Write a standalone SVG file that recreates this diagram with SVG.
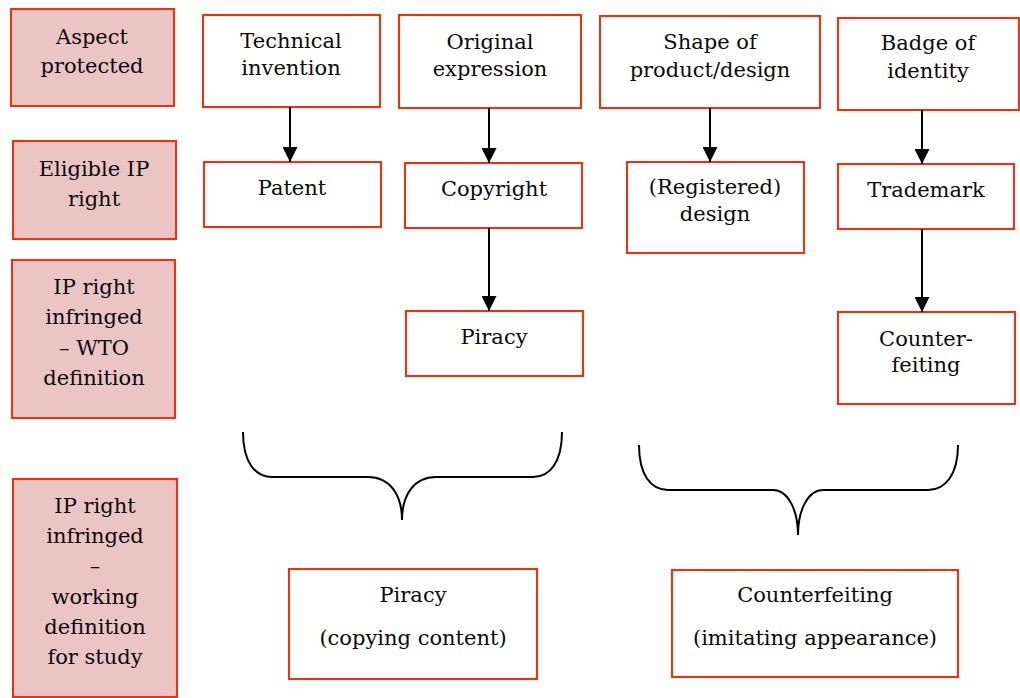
<svg xmlns="http://www.w3.org/2000/svg" width="1020" height="698" viewBox="0 0 1020 698">
<defs>
<style>
rect.n{fill:#ffffff;stroke:#ff2a0a;stroke-width:2}
rect.h{fill:#ebc4c4;stroke:#ff2a0a;stroke-width:2}
text{font-family:"DejaVu Serif","Liberation Serif",serif;font-size:21px;fill:#0a0a0a;text-anchor:middle}
.c line{stroke:#000;stroke-width:2}
.b{fill:none;stroke:#000;stroke-width:2}
</style>
<marker id="ah" markerWidth="15" markerHeight="15" viewBox="0 0 15 15" refX="15" refY="7.5" orient="auto" markerUnits="userSpaceOnUse">
<path d="M0,0 L15,7.5 L0,15 Z" fill="#000"/>
</marker>
</defs>
<rect width="1020" height="698" fill="#fff"/>
<g id="h1"><rect class="h" x="11" y="9" width="163" height="97"/><text x="92" y="44">Aspect</text><text x="92" y="73">protected</text></g>
<g id="h2"><rect class="h" x="13" y="141" width="163" height="98"/><text x="94" y="176">Eligible IP</text><text x="94" y="206">right</text></g>
<g id="h3"><rect class="h" x="12" y="260" width="163" height="158"/><text x="94" y="294">IP right</text><text x="94" y="324">infringed</text><text x="94" y="355">– WTO</text><text x="94" y="385">definition</text></g>
<g id="h4"><rect class="h" x="13" y="479" width="164" height="218"/><text x="95" y="513">IP right</text><text x="95" y="543">infringed</text><text x="95" y="573">–</text><text x="95" y="604">working</text><text x="95" y="634">definition</text><text x="95" y="664">for study</text></g>
<g id="tech"><rect class="n" x="203" y="15" width="177" height="92"/><text x="291" y="48">Technical</text><text x="291" y="75">invention</text></g>
<g id="orig"><rect class="n" x="399" y="15" width="182" height="93"/><text x="490" y="49">Original</text><text x="490" y="76">expression</text></g>
<g id="shape"><rect class="n" x="600" y="16" width="220" height="92"/><text x="710" y="49">Shape of</text><text x="710" y="77">product/design</text></g>
<g id="badge"><rect class="n" x="838" y="18" width="181" height="92"/><text x="928" y="50">Badge of</text><text x="928" y="78">identity</text></g>
<g id="patent"><rect class="n" x="204" y="162" width="177" height="65"/><text x="292" y="195">Patent</text></g>
<g id="copyright"><rect class="n" x="405" y="163" width="177" height="65"/><text x="494" y="196">Copyright</text></g>
<g id="regdesign"><rect class="n" x="627" y="162" width="177" height="91"/><text x="715" y="194">(Registered)</text><text x="715" y="221">design</text></g>
<g id="trademark"><rect class="n" x="838" y="164" width="176" height="65"/><text x="926" y="197">Trademark</text></g>
<g id="piracy"><rect class="n" x="406" y="311" width="177" height="65"/><text x="494" y="344">Piracy</text></g>
<g id="counterfeit"><rect class="n" x="838" y="312" width="177" height="92"/><text x="926" y="346">Counter-</text><text x="926" y="372">feiting</text></g>
<g id="piracy2"><rect class="n" x="289" y="569" width="248" height="110"/><text x="413" y="602">Piracy</text><text x="413" y="645">(copying content)</text></g>
<g id="counterfeit2"><rect class="n" x="672" y="570" width="286" height="107"/><text x="815" y="602">Counterfeiting</text><text x="815" y="645">(imitating appearance)</text></g>
<g id="connectors" class="c">
<line x1="290" y1="107" x2="290" y2="162" marker-end="url(#ah)"/>
<line x1="489" y1="108" x2="489" y2="163" marker-end="url(#ah)"/>
<line x1="489" y1="228" x2="489" y2="311" marker-end="url(#ah)"/>
<line x1="710" y1="108" x2="710" y2="162" marker-end="url(#ah)"/>
<line x1="922" y1="110" x2="922" y2="164" marker-end="url(#ah)"/>
<line x1="922" y1="229" x2="922" y2="312" marker-end="url(#ah)"/>
<path class="b" d="M243,432 C243,462 255,477 272,477 L368,477 C390,477 402,495 402,520 C402,495 414,477 436,477 L533,477 C550,477 562,462 562,432"/>
<path class="b" d="M639,445 C639,475 651,490 668,490 L773,490 C788,490 798,510 798,535 C798,510 808,490 823,490 L928,490 C945,490 958,475 958,445"/>
</g>
</svg>
